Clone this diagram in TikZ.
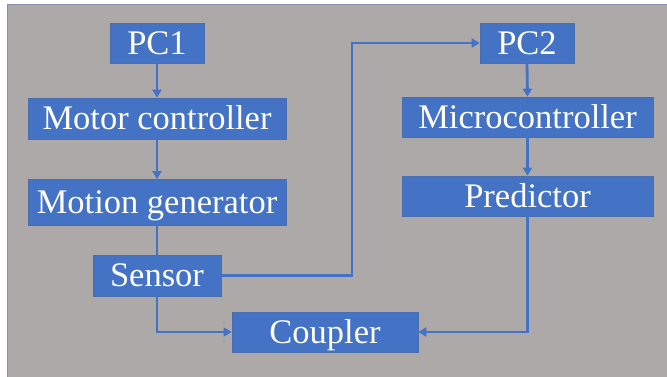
\documentclass[tikz,border=0pt]{standalone}
\usepackage{fontspec}
\setmainfont{Liberation Serif}
\usetikzlibrary{arrows.meta}
\definecolor{bgfill}{HTML}{ADA9A8}
\definecolor{bgline}{HTML}{8392A8}
\definecolor{boxblue}{HTML}{4472C4}
\definecolor{boxline}{HTML}{4A6DAE}
\tikzset{
  blockbox/.style={draw=boxline, line width=0.6pt, fill=boxblue, text=white,
    inner sep=0pt, text height=22.8pt, text depth=0pt,
    font=\fontsize{34.5}{40}\selectfont},
  link/.style={draw=boxblue, line width=2.8pt},
  arrowlink/.style={link, -{Triangle[length=8pt,width=9pt]}},
}
\begin{document}
\begin{tikzpicture}[x=1pt,y=-1pt]
\useasboundingbox (0,0) rectangle (667,377);
\fill[white] (0,0) rectangle (667,377);
\draw[fill=bgfill, draw=bgline, line width=1pt] (7,5) rectangle (670,380);
% left column
\node[blockbox, minimum width=94pt, minimum height=40pt] (pc1) at (157,43) {PC1};
\node[blockbox, minimum width=258pt, minimum height=41pt] (motor) at (157,118.5) {Motor controller};
\node[blockbox, minimum width=258pt, minimum height=46pt] (motion) at (157,202.5) {Motion generator};
\node[blockbox, minimum width=128pt, minimum height=41pt] (sensor) at (157,275.5) {Sensor};
\node[blockbox, minimum width=186pt, minimum height=40pt] (coupler) at (325,332) {Coupler};
% right column
\node[blockbox, minimum width=94pt, minimum height=40pt] (pc2) at (527,43) {PC2};
\node[blockbox, minimum width=251pt, minimum height=40pt] (micro) at (527.5,117) {Microcontroller};
\node[blockbox, minimum width=251pt, minimum height=40pt] (pred) at (527.5,196) {Predictor};
\coordinate (turn) at (352,275.5);
% connectors
\draw[arrowlink] (pc1.south) -- (motor.north);
\draw[arrowlink] (motor.south) -- (motion.north);
\draw[link] (motion.south) -- (sensor.north);
\draw[arrowlink] (sensor.east) -- (turn) |- (pc2.west);
\draw[arrowlink] (sensor.south) |- (coupler.west);
\draw[arrowlink] (pc2.south) -- (micro.north);
\draw[arrowlink] (micro.south) -- (pred.north);
\draw[arrowlink] (pred.south) |- (coupler.east);
\end{tikzpicture}
\end{document}
